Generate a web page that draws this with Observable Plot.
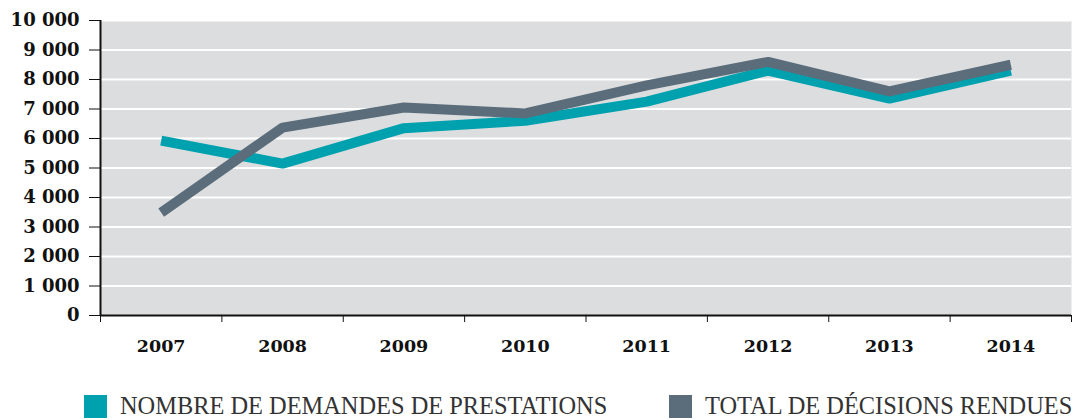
<!DOCTYPE html>
<html><head><meta charset="utf-8">
<script src="https://cdn.jsdelivr.net/npm/d3@7"></script>
<script src="https://cdn.jsdelivr.net/npm/@observablehq/plot@0.6"></script>
<style>
body{margin:0;background:#fff;}
#legend{position:relative;height:42px;font-family:"Liberation Serif",serif;font-size:24.4px;color:#333;}
.item{position:absolute;top:14px;display:flex;align-items:center;white-space:nowrap;}
.sw{width:23px;height:23px;margin-right:13px;}
</style></head><body>
<div id="chart"></div>
<div id="legend"></div>
<script>
const years = [2007, 2008, 2009, 2010, 2011, 2012, 2013, 2014];
const demandes = [5930, 5150, 6350, 6600, 7250, 8300, 7350, 8300];
const decisions = [3490, 6370, 7050, 6850, 7800, 8600, 7600, 8500];
const seriesNames = ["NOMBRE DE DEMANDES DE PRESTATIONS", "TOTAL DE DÉCISIONS RENDUES"];
const seriesColors = ["#00a1ae", "#5b6d7b"];
const yTicks = [0,1000,2000,3000,4000,5000,6000,7000,8000,9000,10000];

const data = [];
years.forEach((y,i)=>{
  data.push({year:y, value:demandes[i], s:seriesNames[0]});
  data.push({year:y, value:decisions[i], s:seriesNames[1]});
});
const bounds = d3.range(years[0]-0.5, years[years.length-1]+1, 1);
const fmt = v => d3.format(",")(v).replace(/,/g, " ");
const serif = "DejaVu Serif";

const chart = Plot.plot({
  width: 1077, height: 378,
  marginLeft: 100, marginRight: 6, marginTop: 20, marginBottom: 63,
  x: {domain: [years[0]-0.5, years[years.length-1]+0.5]},
  y: {domain: [0, 10000]},
  style: {fontFamily: serif, background: "white"},
  marks: [
    Plot.frame({fill: "#dcdddf", stroke: null}),
    Plot.ruleY(yTicks.slice(1), {stroke: "white", strokeWidth: 2}),
    Plot.line(data.filter(d=>d.s===seriesNames[0]), {x:"year", y:"value", stroke: seriesColors[0], strokeWidth: 10, strokeLinejoin:"miter", strokeLinecap:"butt"}),
    Plot.line(data.filter(d=>d.s===seriesNames[1]), {x:"year", y:"value", stroke: seriesColors[1], strokeWidth: 10, strokeLinejoin:"miter", strokeLinecap:"butt"}),
    Plot.axisY({ticks: yTicks, tickFormat: fmt, tickSize: 11, tickPadding: 10, stroke:"#111", fontSize: 18, fontWeight: "bold", fill:"#111", label: null}),
    Plot.axisX({ticks: bounds, tickFormat: () => "", tickSize: 7, stroke:"#111", label: null}),
    Plot.axisX({ticks: years, tickFormat: d => String(d), tickSize: 0, tickPadding: 24, fontSize: 17.5, fontWeight: "bold", fill:"#111", label: null}),
    Plot.ruleX([years[0]-0.5], {stroke: "#111", strokeWidth: 2}),
    Plot.ruleY([0], {stroke: "#111", strokeWidth: 2})
  ]
});
document.getElementById("chart").appendChild(chart);

const legend = document.getElementById("legend");
const lefts = [84, 669];
seriesNames.forEach((n,i)=>{
  const it = document.createElement("div");
  it.className = "item";
  it.style.left = lefts[i] + "px";
  it.innerHTML = `<span class="sw" style="background:${seriesColors[i]}"></span><span>${n}</span>`;
  legend.appendChild(it);
});
</script>
</body></html>
